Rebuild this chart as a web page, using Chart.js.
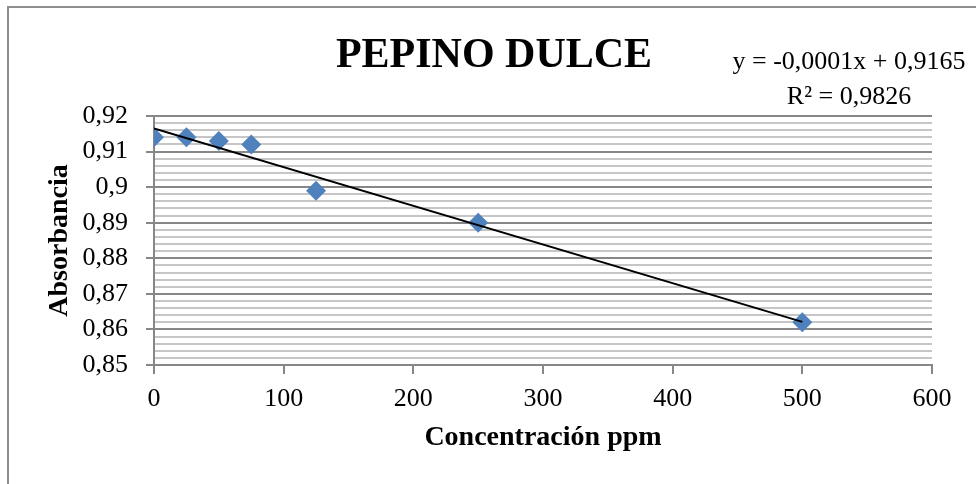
<!DOCTYPE html>
<html lang="es">
<head>
<meta charset="utf-8">
<title>Pepino dulce</title>
<script src="https://cdn.jsdelivr.net/npm/chart.js@4.4.1/dist/chart.umd.min.js"></script>
<style>
    body { margin: 0; background: #fff; }
    #contenedor { width: 976px; height: 484px; }
</style>
</head>
<body>
<div id="contenedor"><canvas id="grafico_pepino"></canvas></div>
<script>
// concentracion (ppm) y absorbancia medida
const concentracion = [0, 25, 50, 75, 125, 250, 500]
const absorbancia = [0.914, 0.914, 0.913, 0.912, 0.899, 0.890, 0.862]

const limitesX = [0, 600]
const limitesY = [0.85, 0.92]
const pasoX = 100
const pasoY = 0.01      // lineas principales
const pasoMenor = 0.002 // lineas secundarias

const titulo = 'PEPINO DULCE'
const tituloX = 'Concentración ppm'
const tituloY = 'Absorbancia'

const fuente = "'Liberation Serif', 'Times New Roman', serif"
const colorPunto = '#4F81BD'
const grisFuerte = '#878787'
const grisSuave = '#c6c6c6'

/*********************************************
*
*       REGRESION LINEAL (minimos cuadrados)
*
**********************************************/
function regresion(xs, ys) {
    const n = xs.length
    const mx = xs.reduce((a, b) => a + b, 0) / n
    const my = ys.reduce((a, b) => a + b, 0) / n
    let sxy = 0, sxx = 0, syy = 0
    for (let i = 0; i < n; i++) {
        sxy += (xs[i] - mx) * (ys[i] - my)
        sxx += (xs[i] - mx) ** 2
        syy += (ys[i] - my) ** 2
    }
    const m = sxy / sxx
    return { m: m, b: my - m * mx, r2: (sxy * sxy) / (sxx * syy) }
}

function coma(num, dec) {
    return num.toFixed(dec).replace('.', ',')
}

const ajuste = regresion(concentracion, absorbancia)
const xFin = Math.max(...concentracion)
const lineaTendencia = [
    { x: 0, y: ajuste.b },
    { x: xFin, y: ajuste.m * xFin + ajuste.b }
]
const ecuacion = 'y = ' + coma(ajuste.m, 4) + 'x + ' + coma(ajuste.b, 4)
const textoR2 = 'R² = ' + coma(ajuste.r2, 4)

function esPrincipal(valor) {
    return Math.round(valor * 1000) % 10 === 0
}

// marco, titulo y ecuacion de la recta
const textos = {
    id: 'textos',
    beforeDraw(chart) {
        const ctx = chart.ctx
        ctx.save()
        ctx.fillStyle = '#fff'
        ctx.fillRect(0, 0, chart.width, chart.height)
        ctx.strokeStyle = '#8e8e8e'
        ctx.lineWidth = 2
        ctx.strokeRect(8, 7, chart.width + 20, chart.height + 20)
        ctx.restore()
    },
    afterDraw(chart) {
        const ctx = chart.ctx
        ctx.save()
        ctx.fillStyle = '#000'
        ctx.textAlign = 'center'
        ctx.textBaseline = 'alphabetic'
        ctx.font = 'bold 42px ' + fuente
        ctx.fillText(titulo, 494, 67)
        ctx.font = '26px ' + fuente
        ctx.fillText(ecuacion, 849, 69)
        ctx.fillText(textoR2, 849, 104)
        ctx.restore()
    }
}

const ctx = document.getElementById('grafico_pepino').getContext('2d')

const data = {
    datasets: [
        {
            type: 'line',
            label: 'Lineal',
            data: lineaTendencia,
            borderColor: '#000',
            borderWidth: 2,
            pointRadius: 0,
            fill: false,
            order: 0
        },
        {
            type: 'scatter',
            label: tituloY,
            data: concentracion.map((c, i) => ({ x: c, y: absorbancia[i] })),
            pointStyle: 'rectRot',
            pointRadius: 10,
            pointHoverRadius: 10,
            backgroundColor: colorPunto,
            borderColor: colorPunto,
            borderWidth: 0,
            order: 1
        }
    ]
}

const options = {
    responsive: true,
    maintainAspectRatio: false,
    animation: false,
    layout: { padding: { left: 39, right: 44, top: 116, bottom: 25 } },
    plugins: {
        legend: { display: false },
        title: { display: false },
        tooltip: { enabled: false }
    },
    scales: {
        x: {
            type: 'linear',
            min: limitesX[0],
            max: limitesX[1],
            afterFit(scale) { scale.height = 94 },
            ticks: {
                stepSize: pasoX,
                color: '#000',
                padding: 10,
                font: { family: fuente, size: 26 }
            },
            grid: {
                drawOnChartArea: false,
                drawTicks: true,
                tickLength: 9,
                color: grisFuerte,
                lineWidth: 2
            },
            border: { color: grisFuerte, width: 2 },
            title: {
                display: true,
                text: tituloX,
                color: '#000',
                font: { family: fuente, size: 28, weight: 'bold' },
                padding: { top: 4, bottom: 4 }
            }
        },
        y: {
            min: limitesY[0],
            max: limitesY[1],
            afterFit(scale) { scale.width = 115 },
            ticks: {
                stepSize: pasoMenor,
                maxTicksLimit: 100,
                autoSkip: false,
                color: '#000',
                padding: 18,
                font: { family: fuente, size: 26 },
                callback: function (valor) {
                    if (!esPrincipal(valor)) return ''
                    return String(Math.round(valor / pasoY) * pasoY * 100 / 100).replace('.', ',')
                }
            },
            grid: {
                tickLength: 8,
                color: (c) => esPrincipal(c.tick.value) ? grisFuerte : grisSuave,
                tickColor: (c) => esPrincipal(c.tick.value) ? grisFuerte : 'rgba(0,0,0,0)',
                lineWidth: 2
            },
            border: { color: grisFuerte, width: 2 },
            title: {
                display: true,
                text: tituloY,
                color: '#000',
                font: { family: fuente, size: 28, weight: 'bold' },
                padding: { top: 4, bottom: 4 }
            }
        }
    }
}

new Chart(ctx, { data, options, plugins: [textos] })
</script>
</body>
</html>
